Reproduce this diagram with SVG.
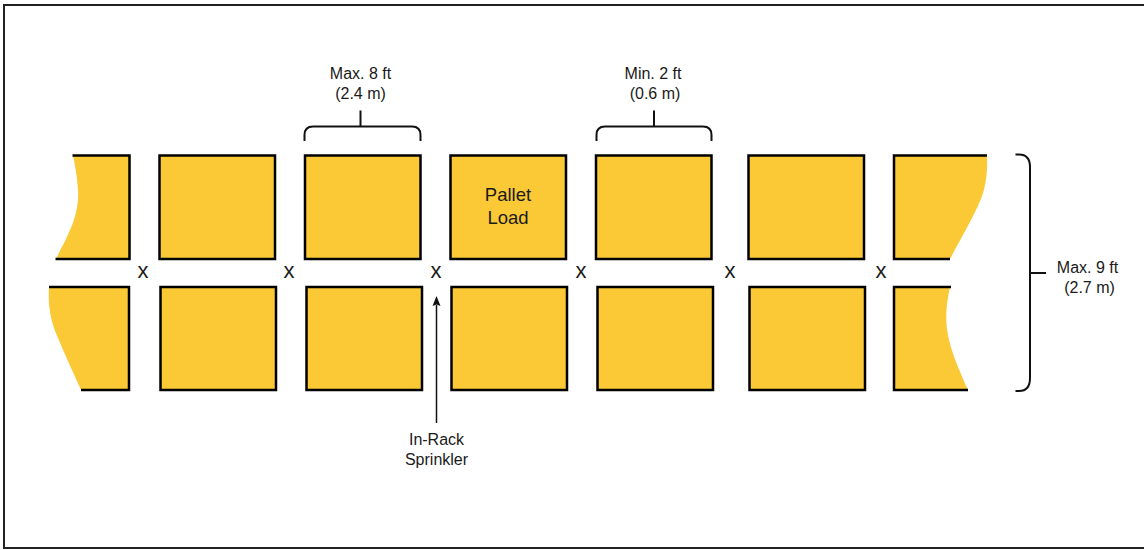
<svg xmlns="http://www.w3.org/2000/svg" width="1144" height="550" viewBox="0 0 1144 550">
<style>
.f{fill:#fac935;stroke:none}
.b{fill:#fac935;stroke:#000;stroke-width:2.5}
.e{fill:none;stroke:#000;stroke-width:2.5}
.l{fill:none;stroke:#111;stroke-width:2}
text{font-family:"Liberation Sans",Arial,sans-serif;fill:#1a1a1a;text-anchor:middle;font-size:16px}
.p{font-size:18.500px}
.x{font-size:22px}
</style>
<rect id="frame" x="4" y="5" width="1160" height="543" fill="#fff" stroke="#222" stroke-width="2"/>
<g id="load-t0"><path class="f" d="M73 155.500H129.500V259H56C64 242 80 218 78 190C77 175 75 165 73 155.500Z"/><path class="e" d="M72.500 155.500H129.500V259H55.500"/></g>
<g id="load-t1"><rect class="b" x="159.500" y="155.500" width="115.500" height="103.500"/></g>
<g id="load-t2"><rect class="b" x="305" y="155.500" width="115.500" height="103.500"/></g>
<g id="load-t3"><rect class="b" x="450.500" y="155.500" width="115.500" height="103.500"/><text class="p" x="508" y="201">Pallet</text><text class="p" x="508" y="224">Load</text></g>
<g id="load-t4"><rect class="b" x="596" y="155.500" width="115.500" height="103.500"/></g>
<g id="load-t5"><rect class="b" x="748.500" y="155.500" width="115.500" height="103.500"/></g>
<g id="load-t6"><path class="f" d="M894 155.500H987C988 180 984 195 975 212C966 230 958 244 950 259H894Z"/><path class="e" d="M987 155.500H894V259H950"/></g>
<g id="load-b0"><path class="f" d="M49 287H129V390H81C73 372 65 355 58 338C50 320 48 305 49 287Z"/><path class="e" d="M49 287H129V390H81"/></g>
<g id="load-b1"><rect class="b" x="160.500" y="287" width="115.500" height="103"/></g>
<g id="load-b2"><rect class="b" x="306.500" y="287" width="115.500" height="103"/></g>
<g id="load-b3"><rect class="b" x="451.500" y="287" width="115.500" height="103"/></g>
<g id="load-b4"><rect class="b" x="597.500" y="287" width="115.500" height="103"/></g>
<g id="load-b5"><rect class="b" x="749.500" y="287" width="115.500" height="103"/></g>
<g id="load-b6"><path class="f" d="M894 287H950C946 305 945 320 948 335C951 352 960 372 968 390H894Z"/><path class="e" d="M951 287H894V390H968"/></g>
<g id="sprinklers">
<text class="x" x="143" y="278">x</text><text class="x" x="289" y="278">x</text><text class="x" x="436" y="278">x</text><text class="x" x="581" y="278">x</text><text class="x" x="730" y="278">x</text><text class="x" x="881" y="278">x</text>
</g>
<g id="connectors">
<path class="l" d="M304.500 141V135Q304.500 126.500 313 126.500H412Q420.500 126.500 420.500 135V141M360.500 126.500V110.500"/>
<path class="l" d="M596.500 141V135Q596.500 126.500 605 126.500H703Q711.500 126.500 711.500 135V141M654 126.500V110.500"/>
<path class="l" d="M1015.500 154.500H1019Q1030 154.500 1030 167V378Q1030 391 1019 391H1015.500M1030 273H1046"/>
<path d="M436.500 423V305" fill="none" stroke="#111" stroke-width="1.500"/>
<path d="M436.500 296L440.500 306L436.500 304.500L432.500 306Z" fill="#111"/>
</g>
<g id="labels">
<text x="360.500" y="79">Max. 8 ft</text><text x="360.500" y="99">(2.4 m)</text>
<text x="653" y="79">Min. 2 ft</text><text x="655" y="99">(0.6 m)</text>
<text x="1087.500" y="273">Max. 9 ft</text><text x="1089.500" y="293">(2.7 m)</text>
<text x="436.500" y="445">In-Rack</text><text x="436.500" y="465">Sprinkler</text>
</g>
</svg>
